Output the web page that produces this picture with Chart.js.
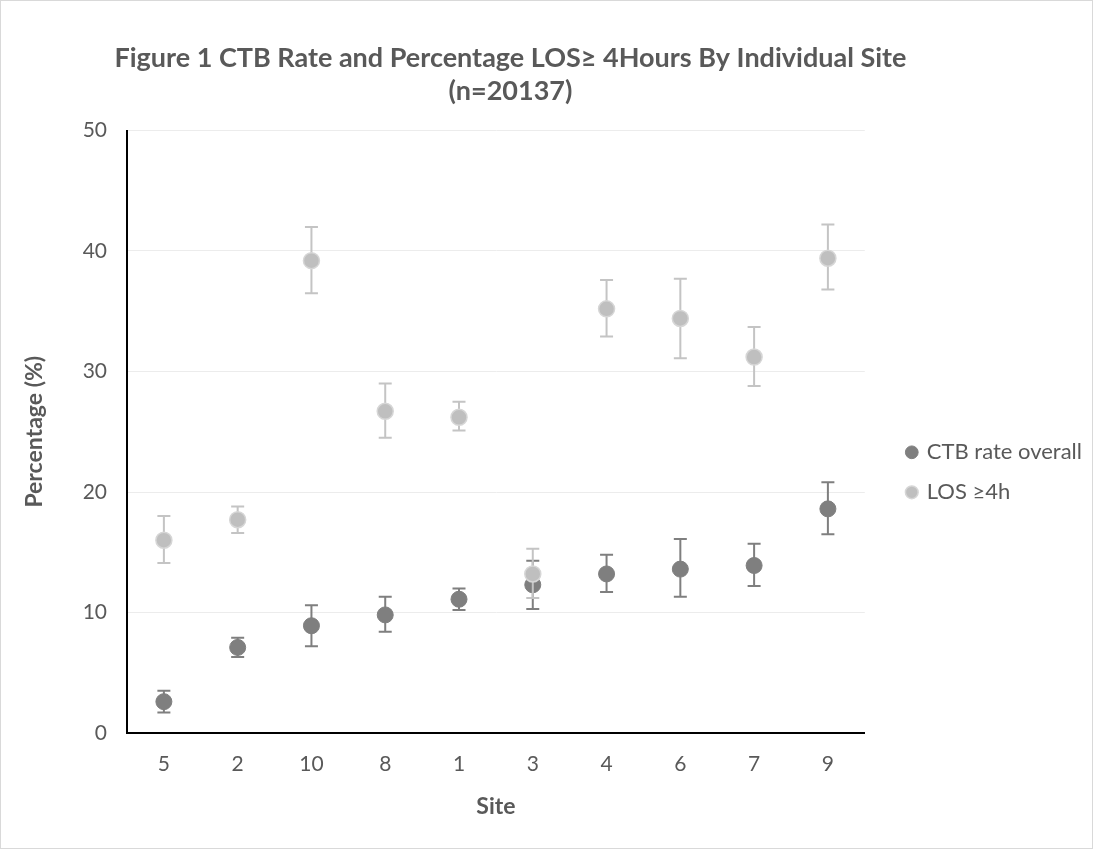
<!DOCTYPE html>
<html>
<head>
<meta charset="utf-8">
<script src="https://cdn.jsdelivr.net/npm/chart.js@4"></script>
<style>
  html, body { margin: 0; padding: 0; background: #fff; }
  #wrap { width: 1093px; height: 849px; box-sizing: border-box; border: 1px solid #d9d9d9; position: relative; }
</style>
</head>
<body>
<div id="wrap"><canvas id="chart"></canvas></div>
<script>
const siteLabels = ['5', '2', '10', '8', '1', '3', '4', '6', '7', '9'];

const ctbRate = [2.6, 7.1, 8.9, 9.8, 11.1, 12.3, 13.2, 13.6, 13.9, 18.6];
const ctbLow = [1.7, 6.3, 7.2, 8.4, 10.2, 10.3, 11.7, 11.3, 12.2, 16.5];
const ctbHigh = [3.5, 7.9, 10.6, 11.3, 12.0, 14.3, 14.8, 16.1, 15.7, 20.8];

const losRate = [16.0, 17.7, 39.2, 26.7, 26.2, 13.2, 35.2, 34.4, 31.2, 39.4];
const losLow = [14.1, 16.6, 36.5, 24.5, 25.1, 11.2, 32.9, 31.1, 28.8, 36.8];
const losHigh = [18.0, 18.8, 42.0, 29.0, 27.5, 15.3, 37.6, 37.7, 33.7, 42.2];

const yTicks = [0, 10, 20, 30, 40, 50];

const textColor = '#595959';
const fontFamily = 'Lato, "Open Sans", sans-serif';
// trailing spaces nudge the centred title left, like the original layout
const titlePad = '\u00a0'.repeat(11);

// error bars drawn just before each dataset's points
const errorBars = {
    id: 'errorBars',
    beforeDatasetDraw(chart, args) {
        const ds = chart.data.datasets[args.index];
        if (!ds.errLow) return;
        const ctx = chart.ctx;
        const y = chart.scales.y;
        ctx.save();
        ctx.strokeStyle = ds.errColor;
        ctx.lineWidth = 2;
        args.meta.data.forEach((pt, i) => {
            const x = pt.x;
            const top = y.getPixelForValue(ds.errHigh[i]);
            const bot = y.getPixelForValue(ds.errLow[i]);
            ctx.beginPath();
            ctx.moveTo(x, top);
            ctx.lineTo(x, bot);
            ctx.moveTo(x - 6.5, top);
            ctx.lineTo(x + 6.5, top);
            ctx.moveTo(x - 6.5, bot);
            ctx.lineTo(x + 6.5, bot);
            ctx.stroke();
        });
        ctx.restore();
    }
};

const ctx = document.getElementById('chart').getContext('2d');

new Chart(ctx, {
    type: 'line',
    data: {
        labels: siteLabels,
        datasets: [
            {
                label: 'CTB rate overall',
                data: ctbRate,
                errLow: ctbLow,
                errHigh: ctbHigh,
                errColor: '#7f7f7f',
                showLine: false,
                pointRadius: 8,
                pointBackgroundColor: '#7f7f7f',
                pointBorderColor: '#7f7f7f',
                pointBorderWidth: 1,
                backgroundColor: '#7f7f7f',
                borderColor: '#7f7f7f',
                order: 1
            },
            {
                label: 'LOS \u22654h',
                data: losRate,
                errLow: losLow,
                errHigh: losHigh,
                errColor: '#c4c4c4',
                showLine: false,
                pointRadius: 8,
                pointBackgroundColor: '#bfbfbf',
                pointBorderColor: '#d6d6d6',
                pointBorderWidth: 1.5,
                backgroundColor: '#bfbfbf',
                borderColor: '#bfbfbf',
                order: 0
            }
        ]
    },
    options: {
        responsive: true,
        maintainAspectRatio: false,
        animation: false,
        events: [],
        layout: { padding: { left: 0, right: 0, top: 0, bottom: 0 } },
        plugins: {
            tooltip: { enabled: false },
            title: {
                display: true,
                fullSize: true,
                text: ['Figure 1 CTB Rate and Percentage LOS\u2265 4Hours By Individual Site' + titlePad, '(n=20137)' + titlePad],
                color: textColor,
                font: { family: fontFamily, size: 27, weight: 'bold', lineHeight: 1.25 },
                padding: { top: 40, bottom: 22 }
            },
            legend: {
                position: 'right',
                align: 'center',
                title: { display: true, text: ' ', padding: { top: 74, bottom: 0 }, font: { size: 18 } },
                labels: {
                    usePointStyle: true,
                    pointStyle: 'circle',
                    boxWidth: 8,
                    boxHeight: 9,
                    padding: 18,
                    color: textColor,
                    font: { family: fontFamily, size: 22 },
                    sort: (a, b) => a.datasetIndex - b.datasetIndex
                }
            }
        },
        scales: {
            x: {
                type: 'category',
                offset: true,
                grid: { display: false, drawTicks: false },
                border: { display: true, color: '#000', width: 2 },
                ticks: { color: textColor, font: { family: fontFamily, size: 21 }, padding: 19 },
                title: {
                    display: true,
                    text: 'Site',
                    color: textColor,
                    font: { family: fontFamily, size: 23, weight: 'bold' },
                    padding: { top: 0, bottom: 28 }
                },
                afterFit: (scale) => { scale.height = 115; }
            },
            y: {
                min: 0,
                max: 50,
                afterBuildTicks: (scale) => { scale.ticks = yTicks.map(v => ({ value: v })); },
                grid: { color: '#ececec', lineWidth: 1, drawTicks: false },
                border: { display: true, color: '#000', width: 2 },
                ticks: { color: textColor, font: { family: fontFamily, size: 21 }, padding: 20 },
                title: {
                    display: true,
                    text: 'Percentage (%)',
                    color: textColor,
                    font: { family: fontFamily, size: 23, weight: 'bold' },
                    padding: { top: 20, bottom: 0 }
                },
                afterFit: (scale) => { scale.width = 126; }
            },
            // empty spacer between plot and legend
            gap: {
                position: 'right',
                display: false,
                afterFit: (scale) => { scale.width = 25; }
            }
        }
    },
    plugins: [errorBars]
});
</script>
</body>
</html>
